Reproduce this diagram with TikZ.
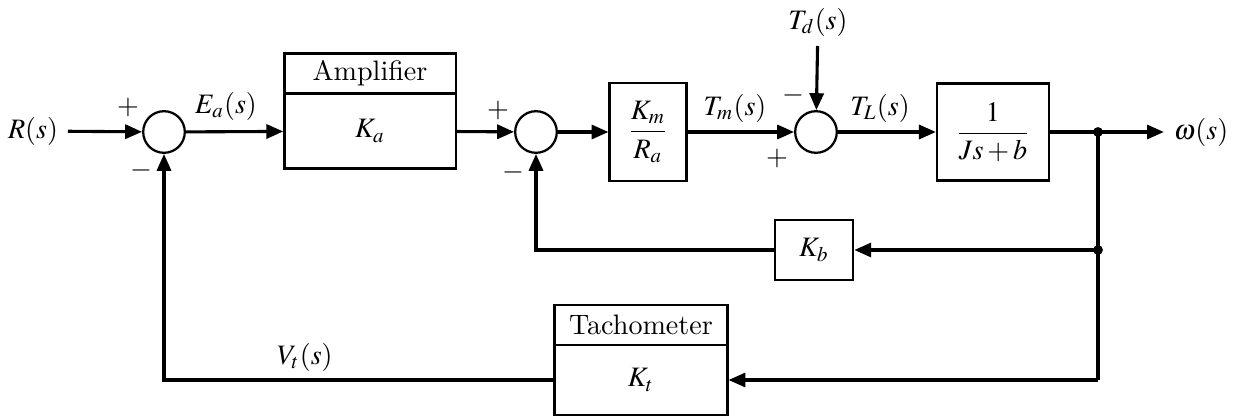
\documentclass[tikz,border=0pt]{standalone}
\usepackage{amsmath}
\usepackage{mathptmx}
\usepackage{tikz}
\usetikzlibrary{arrows.meta,positioning}
\tikzstyle{arrow} = [line width=1.1pt,-{Triangle[length=6pt,width=5pt]}]
\tikzstyle{wire} = [line width=1.1pt]
\tikzstyle{block} = [draw=black, line width=0.8pt, rectangle, inner sep=0pt]
\tikzstyle{sum} = [draw=black, line width=0.8pt, circle, minimum size=0.52cm, inner sep=0pt]
\tikzstyle{junct} = [fill=black, circle, minimum size=3.5pt, inner sep=0pt]

\begin{document}
\begin{tikzpicture}[x=0.0125cm, y=-0.0125cm]
        % Bounding box
        \useasboundingbox (0,0) rectangle (1240,416);

        % Nodes
        \node (r) at (33,131) {$R(s)$};
        \node[sum] (sa) at (164,132) {};
        \node[block, minimum width=2.14cm, minimum height=0.94cm] (amp) at (370,131) {$K_a$};
        \node[block, minimum width=2.14cm, minimum height=0.5cm, above=-0.8pt of amp] (amph) {Amplifier};
        \node[sum] (sb) at (536,132) {};
        \node[block, minimum width=0.96cm, minimum height=1.23cm] (kmra) at (648,132) {$\dfrac{K_m}{R_a}$};
        \node (td) at (818,22) {$T_d(s)$};
        \node[sum] (sc) at (816,132) {};
        \node[block, minimum width=1.4cm, minimum height=1.21cm] (plant) at (993,132) {$\dfrac{1}{Js+b}$};
        \node[junct] (j1) at (1098,132) {};
        \node (out) at (1201,132) {$\omega(s)$};
        \node[junct] (j2) at (1098,250) {};
        \coordinate (j3) at (1098,380);
        \node[block, minimum width=0.98cm, minimum height=0.75cm] (kb) at (814,250) {$K_b$};
        \node[block, minimum width=2.16cm, minimum height=0.875cm] (tacho) at (641,380) {$K_t$};
        \node[block, minimum width=2.16cm, minimum height=0.5cm, above=-0.8pt of tacho] (tachoh) {Tachometer};

        % Signs and signal labels
        \node at (128,107) {$+$};
        \node at (141,170) {$-$};
        \node at (226,106) {$E_a(s)$};
        \node at (498,110) {$+$};
        \node at (513,172) {$-$};
        \node at (735,108) {$T_m(s)$};
        \node at (793,95)  {$-$};
        \node at (777,158) {$+$};
        \node at (880,108) {$T_L(s)$};
        \node at (305,357) {$V_t(s)$};

        % Edges
        % Forward path
        \draw[arrow] (r) -- (sa);
        \draw[arrow] (sa) -- (amp);
        \draw[arrow] (amp) -- (sb);
        \draw[arrow] (sb) -- (kmra);
        \draw[arrow] (kmra) -- (sc);
        \draw[arrow] (td) -- (sc);
        \draw[arrow] (sc) -- (plant);
        \draw[wire] (plant) -- (j1.center);
        \draw[arrow] (j1.center) -- (out);

        % Back-emf loop
        \draw[wire] (j1.center) -- (j2.center) -- (j3);
        \draw[arrow] (j2.center) -- (kb);
        \draw[arrow] (kb.west) -| (sb.south);

        % Tachometer loop
        \draw[arrow] (j3) -- (tacho.east);
        \draw[arrow] (tacho.west) -| (sa.south);

    \end{tikzpicture}
\end{document}
